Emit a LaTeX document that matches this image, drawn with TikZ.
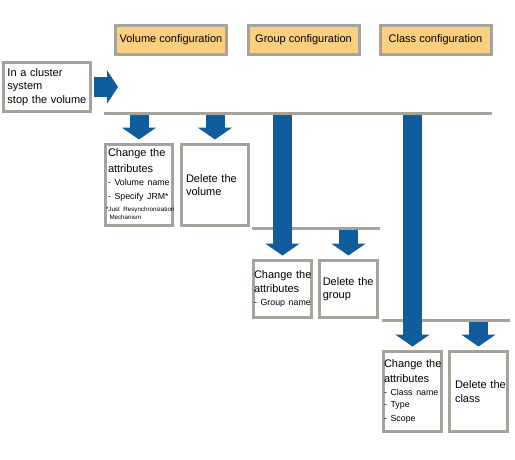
\documentclass[tikz,border=0pt]{standalone}
\usepackage{fontspec}
\setmainfont{Liberation Sans}
\usetikzlibrary{arrows.meta}

\definecolor{headfill}{RGB}{250,207,127}
\definecolor{framegray}{RGB}{164,164,156}
\definecolor{arrowblue}{RGB}{16,93,157}
\newcommand{\mainsize}{\fontsize{11}{13.5}\selectfont}
\newcommand{\itemsize}{\fontsize{8.8}{12.8}\selectfont}
\newcommand{\notesize}{\fontsize{6.2}{7.4}\selectfont}

\begin{document}
\begin{tikzpicture}
[x=1pt,y=-1pt,%
  headdecorate/.style={draw=framegray,line width=3pt,fill=headfill,%
    minimum width=111pt,minimum height=29pt,inner sep=0pt,font=\mainsize},%
  boxdecorate/.style={draw=framegray,line width=3pt,fill=white,align=left,%
    inner ysep=1pt,font=\mainsize},%
  bardecorate/.style={draw=framegray,line width=3pt},%
  arrowdecorate/.style={draw=arrowblue,line width=19pt,%
    -{Triangle[width=34pt,length=12pt]}}]
\useasboundingbox (0,0) rectangle (515,459);
%% configuration headers
\foreach \nodename/\x/\kind in {volhead/171/Volume, grphead/303.5/Group,
  clshead/435.5/Class}
{
  \node (\nodename) at (\x,40) [headdecorate] {\kind\ configuration};
}
%% boxes
\node (stopbox) at (47,87) [boxdecorate,text width=79pt,inner xsep=4pt,
  minimum height=49pt] {In a cluster\\system\\\mbox{stop the volume}};
\node (volattr) at (139,185) [boxdecorate,text width=62pt,inner xsep=2.5pt,
  minimum height=81pt] {\mbox{Change the}\\[2.5pt]attributes\par
  \itemsize\mbox{- Volume name}\\[1pt]\mbox{- Specify JRM*}\par\vspace{3pt}
  \notesize\hspace*{-2pt}\begin{tabular}{@{}l@{}}*Just Resynchronization\\
  \hspace*{3.5pt}Mechanism\end{tabular}};
\node (voldel) at (215,185) [boxdecorate,text width=58pt,inner xsep=4.5pt,
  minimum height=81pt] {\mbox{Delete the}\\volume};
\node (grpattr) at (282.5,289) [boxdecorate,text width=57pt,inner xsep=0.5pt,
  minimum height=57pt] {\mbox{Change the}\\attributes\par
  \itemsize\mbox{- Group name}};
\node (grpdel) at (348.5,289) [boxdecorate,text width=51.5pt,inner xsep=3.25pt,
  minimum height=57pt] {\mbox{Delete the}\\group};
\node (clsattr) at (412.5,391.5) [boxdecorate,text width=57pt,inner xsep=0.5pt,
  minimum height=80pt] {\mbox{Change the}\\[1pt]attributes\par
  \itemsize\mbox{- Class name}\\\mbox{- Type}\\\mbox{- Scope}};
\node (clsdel) at (478.5,391.5) [boxdecorate,text width=47pt,inner xsep=5.5pt,
  minimum height=80pt] {\mbox{Delete the}\\class};
%% bars
\coordinate (volbar) at (104,113.5);
\coordinate (volbarend) at (492,113.5);
\coordinate (grpbar) at (252,228);
\coordinate (grpbarend) at (380,228);
\coordinate (clsbar) at (382,320);
\coordinate (clsbarend) at (510,320);
\draw[bardecorate] (volbar) -- (volbarend);
\draw[bardecorate] (grpbar) -- (grpbarend);
\draw[bardecorate] (clsbar) -- (clsbarend);
%% arrows
\coordinate (stoptip) at (118,87);
\path (stopbox.east) edge[arrowdecorate,line width=20pt,shorten <=1.5pt,
  -{Triangle[width=33pt,length=11pt]}] (stoptip);
\path
\foreach \startbar/\endnode in {volbar/volattr, volbar/voldel, volbar/grpattr,
  grpbar/grpdel, volbar/clsattr, clsbar/clsdel}
{
  (\endnode.north |- \startbar) edge[arrowdecorate,shorten <=1.5pt,
    shorten >=3.5pt] (\endnode.north)
};
\end{tikzpicture}
\end{document}
